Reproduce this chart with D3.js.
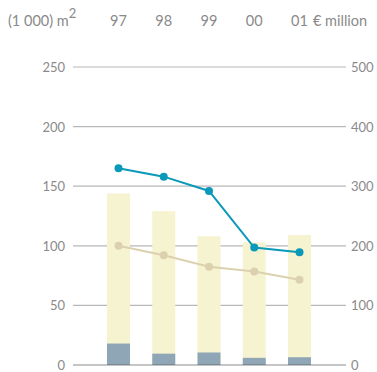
<!DOCTYPE html>
<html>
<head>
<meta charset="utf-8">
<script src="https://cdn.jsdelivr.net/npm/d3@7"></script>
<style>
  body { margin: 0; background: #fff; }
  text { font-family: Lato, "DejaVu Sans", sans-serif; fill: #8a8a8a; font-size: 13px; }
  .head { font-size: 14.5px; }
</style>
</head>
<body>
<script>
// chart data
var years = ["97", "98", "99", "00", "01"];
var totalArea = [144, 129, 108, 103, 109];   // (1 000) m2, light bars
var partArea = [18, 9.5, 10.5, 6, 6.5];      // (1 000) m2, dark bars
var blueLine = [330, 316, 292, 197, 189];    // € million
var beigeLine = [200, 184, 165, 157, 143];   // € million
var leftTicks = [0, 50, 100, 150, 200, 250];
var rightTicks = [0, 100, 200, 300, 400, 500];

var width = 377, height = 372;

var svg = d3.select("body").append("svg")
    .attr("width", width)
    .attr("height", height);

// set the ranges
var x = d3.scalePoint().domain(years).range([118.5, 299.5]);
var yL = d3.scaleLinear().domain([0, 250]).range([365, 67]);
var yR = d3.scaleLinear().domain([0, 500]).range([365, 67]);
var barW = 23;

// grid lines
svg.selectAll(".grid")
    .data(leftTicks.filter(function(d) { return d > 0; }))
    .enter().append("line")
    .attr("x1", 73).attr("x2", 346)
    .attr("y1", function(d) { return yL(d); })
    .attr("y2", function(d) { return yL(d); })
    .attr("stroke", "#b8b8b8")
    .attr("stroke-width", 1.2);

// left axis labels
svg.selectAll(".lt")
    .data(leftTicks)
    .enter().append("text")
    .attr("x", 65)
    .attr("y", function(d) { return yL(d) + 5; })
    .attr("text-anchor", "end")
    .text(function(d) { return d; });

// right axis labels
svg.selectAll(".rt")
    .data(rightTicks)
    .enter().append("text")
    .attr("x", 351)
    .attr("y", function(d) { return yR(d) + 5; })
    .text(function(d) { return d; });

// bars
svg.selectAll(".bar")
    .data(totalArea)
    .enter().append("rect")
    .attr("x", function(d, i) { return x(years[i]) - barW / 2; })
    .attr("width", barW)
    .attr("y", function(d) { return yL(d); })
    .attr("height", function(d) { return yL(0) - yL(d); })
    .attr("fill", "#f6f3d1");

svg.selectAll(".bar2")
    .data(partArea)
    .enter().append("rect")
    .attr("x", function(d, i) { return x(years[i]) - barW / 2; })
    .attr("width", barW)
    .attr("y", function(d) { return yL(d); })
    .attr("height", function(d) { return yL(0) - yL(d); })
    .attr("fill", "#8ea6b6");

// baseline on top
svg.append("line")
    .attr("x1", 73).attr("x2", 346)
    .attr("y1", yL(0)).attr("y2", yL(0))
    .attr("stroke", "#555")
    .attr("stroke-opacity", 0.45)
    .attr("stroke-width", 1.5);

// lines
function drawLine(vals, color) {
  var line = d3.line()
      .x(function(d, i) { return x(years[i]); })
      .y(function(d) { return yR(d); });
  svg.append("path")
      .datum(vals)
      .attr("d", line)
      .attr("fill", "none")
      .attr("stroke", color)
      .attr("stroke-width", 2);
  svg.selectAll(null)
      .data(vals)
      .enter().append("circle")
      .attr("cx", function(d, i) { return x(years[i]); })
      .attr("cy", function(d) { return yR(d); })
      .attr("r", 4)
      .attr("fill", color);
}
drawLine(beigeLine, "#dcd1af");
drawLine(blueLine, "#0a99b9");

// header
var head = svg.append("text").attr("class", "head").attr("x", 8).attr("y", 26);
head.append("tspan").text("(1 000) m");
head.append("tspan").attr("dy", -8).attr("font-size", "13px").text("2");

svg.selectAll(".yr")
    .data(years)
    .enter().append("text")
    .attr("class", "head")
    .attr("x", function(d) { return x(d); })
    .attr("y", 26)
    .attr("text-anchor", "middle")
    .text(function(d) { return d; });

svg.append("text")
    .attr("class", "head")
    .attr("x", 313)
    .attr("y", 26)
    .text("€ million");
</script>
</body>
</html>
